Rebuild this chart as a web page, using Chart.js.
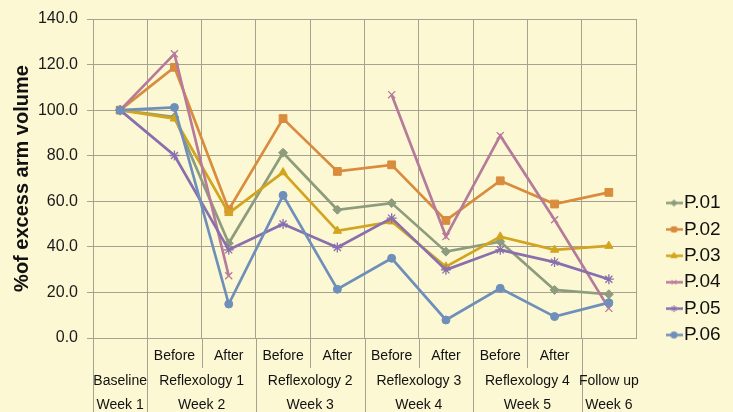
<!DOCTYPE html>
<html><head><meta charset="utf-8">
<script src="https://cdn.jsdelivr.net/npm/chart.js@4/dist/chart.umd.min.js"></script>
<style>
html,body{margin:0;padding:0;background:#fcf8d3;}
#wrap{width:733px;height:412px;position:relative;}
canvas{background:#fcf8d3;}
</style>
</head><body>
<div id="wrap"><canvas id="c" width="733" height="412"></canvas></div>
<script>
// ---- data ----
const categories = ['', 'Before', 'After', 'Before', 'After', 'Before', 'After', 'Before', 'After', ''];
const groupLabels = ['Baseline', 'Reflexology 1', 'Reflexology 2', 'Reflexology 3', 'Reflexology 4', 'Follow up'];
const weekLabels = ['Week 1', 'Week 2', 'Week 3', 'Week 4', 'Week 5', 'Week 6'];
const groupSpans = [1, 2, 2, 2, 2, 1];
const seriesNames = ['P.01', 'P.02', 'P.03', 'P.04', 'P.05', 'P.06'];
const p01 = [100, 97.0, 41.6, 81.3, 56.3, 59.2, 37.9, 42.3, 21.1, 19.2];
const p02 = [100, 118.8, 56.3, 96.3, 73.1, 76.0, 51.6, 69.0, 58.8, 63.9];
const p03 = [100, 96.3, 54.8, 72.7, 47.0, 51.1, 31.3, 44.5, 38.7, 40.4];
const p04 = [100, 124.7, 27.3, null, null, 106.8, 44.5, 88.8, 51.9, 13.0];
const p05 = [100, 80.1, 38.7, 50.0, 39.7, 52.6, 29.9, 38.7, 33.3, 25.8];
const p06 = [100, 101.2, 14.9, 62.6, 21.4, 35.0, 7.9, 21.8, 9.4, 15.5];
const yTickValues = [0, 20, 40, 60, 80, 100, 120, 140];

const seriesValues = [p01, p02, p03, p04, p05, p06];
const colors = ['#8d9c7d', '#d98c3d', '#d3a41f', '#b67a9a', '#8a6fae', '#6f8fbb'];
const pointStyles = ['rectRot', 'rect', 'triangle', 'crossRot', 'star', 'circle'];
const pointRadii = [4.5, 5.5, 4.8, 5, 5, 4];
const legendRadii = [3.2, 3.6, 3.6, 3.5, 3.5, 3.2];

const FONT = "'Liberation Sans', Arial, sans-serif";
const GRID = '#a7a290';

function makeIcon(i) {
  const cv = document.createElement('canvas');
  cv.width = 17; cv.height = 11;
  const ctx = cv.getContext('2d');
  ctx.strokeStyle = colors[i];
  ctx.lineWidth = 2.5;
  ctx.beginPath(); ctx.moveTo(0, 5.5); ctx.lineTo(17, 5.5); ctx.stroke();
  ctx.fillStyle = colors[i];
  ctx.strokeStyle = colors[i];
  ctx.lineWidth = 1;
  Chart.helpers.drawPoint(ctx, {pointStyle: pointStyles[i], radius: legendRadii[i], rotation: 0, borderWidth: 1}, 8.5, 5.5);
  return cv;
}
const legendIcons = seriesNames.map((_, i) => makeIcon(i));

const datasets = seriesNames.map((name, i) => ({
  label: name,
  data: seriesValues[i],
  borderColor: colors[i],
  backgroundColor: colors[i],
  pointBackgroundColor: colors[i],
  pointBorderColor: colors[i],
  pointStyle: pointStyles[i],
  pointRadius: pointRadii[i],
  pointBorderWidth: (pointStyles[i] === 'crossRot' || pointStyles[i] === 'star') ? 1.3 : 1,
  borderWidth: 2.7,
  tension: 0,
  spanGaps: false,
  order: seriesNames.length - i
}));

const legendFix = {
  id: 'legendFix',
  afterInit(chart) {
    const lg = chart.legend;
    const f = lg.fit;
    lg.fit = function () { f.call(this); this.width = 66.9; };
  }
};

const groupAxis = {
  id: 'groupAxis',
  afterDraw(chart) {
    const x = chart.scales.x;
    const ctx = chart.ctx;
    const base = chart.chartArea.bottom;
    const half = (x.getPixelForValue(1) - x.getPixelForValue(0)) / 2;
    ctx.save();
    ctx.strokeStyle = GRID;
    ctx.lineWidth = 1;
    ctx.fillStyle = '#111';
    ctx.font = '14px ' + FONT;
    ctx.textAlign = 'center';
    ctx.textBaseline = 'middle';
    let s = 0;
    groupSpans.forEach((span, g) => {
      const e = s + span - 1;
      const left = x.getPixelForValue(s) - half;
      const right = x.getPixelForValue(e) + half;
      const lx = Math.round(left) + 0.5;
      ctx.beginPath(); ctx.moveTo(lx, base); ctx.lineTo(lx, 412); ctx.stroke();
      for (let k = s + 1; k <= e; k++) {
        const ix = Math.round(x.getPixelForValue(k) - half) + 0.5;
        ctx.beginPath(); ctx.moveTo(ix, base); ctx.lineTo(ix, 368); ctx.stroke();
      }
      const cx = (left + right) / 2;
      ctx.fillText(groupLabels[g], cx, 381);
      ctx.fillText(weekLabels[g], cx, 405);
      s = e + 1;
    });
    ctx.restore();
  }
};

new Chart(document.getElementById('c'), {
  type: 'line',
  data: { labels: categories, datasets },
  plugins: [legendFix, groupAxis],
  options: {
    responsive: false,
    animation: false,
    layout: { padding: { top: 19, left: 0, right: 0, bottom: 0 } },
    plugins: {
      tooltip: { enabled: false },
      legend: {
        position: 'right',
        align: 'start',
        title: { display: true, text: '', font: { size: 12 }, padding: { top: 152.7, bottom: 0 } },
        labels: {
          boxWidth: 1,
          usePointStyle: true,
          padding: 7.4,
          color: '#111',
          font: { family: FONT, size: 19 },
          generateLabels(chart) {
            const items = Chart.defaults.plugins.legend.labels.generateLabels(chart);
            items.sort((a, b) => a.datasetIndex - b.datasetIndex);
            items.forEach(it => { it.pointStyle = legendIcons[it.datasetIndex]; });
            return items;
          }
        }
      }
    },
    scales: {
      x: {
        offset: true,
        grid: { offset: true, color: GRID, lineWidth: 1, drawTicks: false },
        border: { color: GRID },
        ticks: { color: '#111', font: { family: FONT, size: 14 }, padding: 10, maxRotation: 0, autoSkip: false },
        afterFit(s) { s.height = 74; }
      },
      y: {
        min: 0, max: 140,
        afterBuildTicks(s) { s.ticks = yTickValues.map(v => ({ value: v })); },
        grid: { color: GRID, lineWidth: 1, tickLength: 6, tickColor: GRID },
        border: { color: GRID },
        ticks: { color: '#1a1a1a', font: { family: FONT, size: 16 }, padding: 9, callback: v => Number(v).toFixed(1) },
        title: { display: true, text: '%of excess arm volume', color: '#111', font: { family: FONT, size: 20, weight: 'bold' }, padding: { top: 10, bottom: 0 } },
        afterFit(s) { s.width = 93; }
      },
      yR: {
        position: 'right',
        display: true,
        grid: { display: false, drawTicks: false },
        border: { display: false },
        ticks: { display: false },
        afterFit(s) { s.width = 30.1; }
      }
    }
  }
});
</script>
</body></html>
